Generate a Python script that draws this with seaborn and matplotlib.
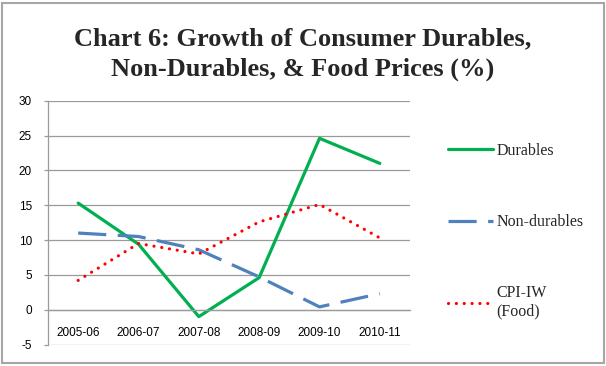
import matplotlib
matplotlib.use("Agg")
import matplotlib.pyplot as plt
import seaborn as sns
import pandas as pd
from matplotlib.patches import Rectangle
from matplotlib.ticker import FixedLocator

periods = ["2005-06", "2006-07", "2007-08", "2008-09", "2009-10", "2010-11"]
durables = [15.3, 9.4, -1.0, 4.6, 24.6, 21.0]
non_durables = [11.0, 10.5, 8.6, 4.7, 0.4, 2.3]
cpi_food = [4.2, 9.5, 8.0, 12.6, 15.1, 10.3]
series_names = ["Durables", "Non-durables", "CPI-IW\n(Food)"]
y_ticks = [-5, 0, 5, 10, 15, 20, 25, 30]

df = pd.DataFrame({
    "period": periods * 3,
    "value": durables + non_durables + cpi_food,
    "series": [series_names[0]] * 6 + [series_names[1]] * 6 + [series_names[2]] * 6,
})

sns.set_style("white")
plt.rcParams["font.family"] = ["Liberation Sans", "DejaVu Sans"]

fig = plt.figure(figsize=(6.06, 3.66), dpi=100)
ax = fig.add_axes([48 / 606, (366 - 344.5) / 366, (410 - 48) / 606, (344.5 - 100.7) / 366])

palette = {series_names[0]: "#00B050", series_names[1]: "#4F81BD", series_names[2]: "#FF0000"}
dashes = {series_names[0]: "", series_names[1]: (8.8, 3.6), series_names[2]: (0.01, 2.45)}
sns.lineplot(data=df, x="period", y="value", hue="series", style="series",
             palette=palette, dashes=dashes, hue_order=series_names, style_order=series_names,
             sort=False, legend=False, linewidth=2.3, ax=ax)

lines = ax.lines[:3]
lines[2].set_dash_capstyle("round")
lines[1].set_dash_capstyle("butt")

ax.set_xlim(-0.5, 5.5)
ax.set_ylim(-5, 30)
ax.set_yticks(y_ticks)
ax.set_yticklabels([str(v) for v in y_ticks])
ax.set_xlabel("")
ax.set_ylabel("")

ax.grid(axis="y", color="#9A9A9A", linewidth=0.9)
ax.grid(axis="x", visible=False)
ax.set_axisbelow(True)

for s in ["top", "right"]:
    ax.spines[s].set_visible(False)
ax.spines["left"].set_color("#9A9A9A")
ax.spines["left"].set_linewidth(0.9)
ax.spines["bottom"].set_position(("data", 0))
ax.spines["bottom"].set_color("#9A9A9A")
ax.spines["bottom"].set_linewidth(0.9)

ax.xaxis.set_minor_locator(FixedLocator([-0.5, 0.5, 1.5, 2.5, 3.5, 4.5, 5.5]))
ax.tick_params(axis="x", which="major", length=0, pad=12.5, labelsize=8.5, labelcolor="black")
ax.tick_params(axis="x", which="minor", length=3.6, width=0.9, color="#9A9A9A", direction="out")
ax.tick_params(axis="y", which="major", length=3, width=0.9, color="#9A9A9A", pad=8.5,
               labelsize=8.5, labelcolor="black", left=True)

leg = ax.legend(handles=lines, labels=series_names, loc="upper left",
                bbox_to_anchor=(448 / 606, (366 - 143) / 366), bbox_transform=fig.transFigure,
                frameon=False, handlelength=2.8, handletextpad=0.25, labelspacing=3.45,
                prop={"family": "Liberation Serif", "size": 11.5}, borderpad=0, borderaxespad=0)

fig.text(0.5, (366 - 54) / 366, "Chart 6: Growth of Consumer Durables,\nNon-Durables, & Food Prices (%)",
         ha="center", va="center", fontsize=19, fontweight="bold",
         family="Liberation Serif", linespacing=1.4)

fig.patches.append(Rectangle((2.5 / 606, 3 / 366), 601 / 606, 360 / 366, transform=fig.transFigure,
                             fill=False, edgecolor="#A6A6A6", linewidth=1.5))

fig.savefig("out.png", dpi=100)
